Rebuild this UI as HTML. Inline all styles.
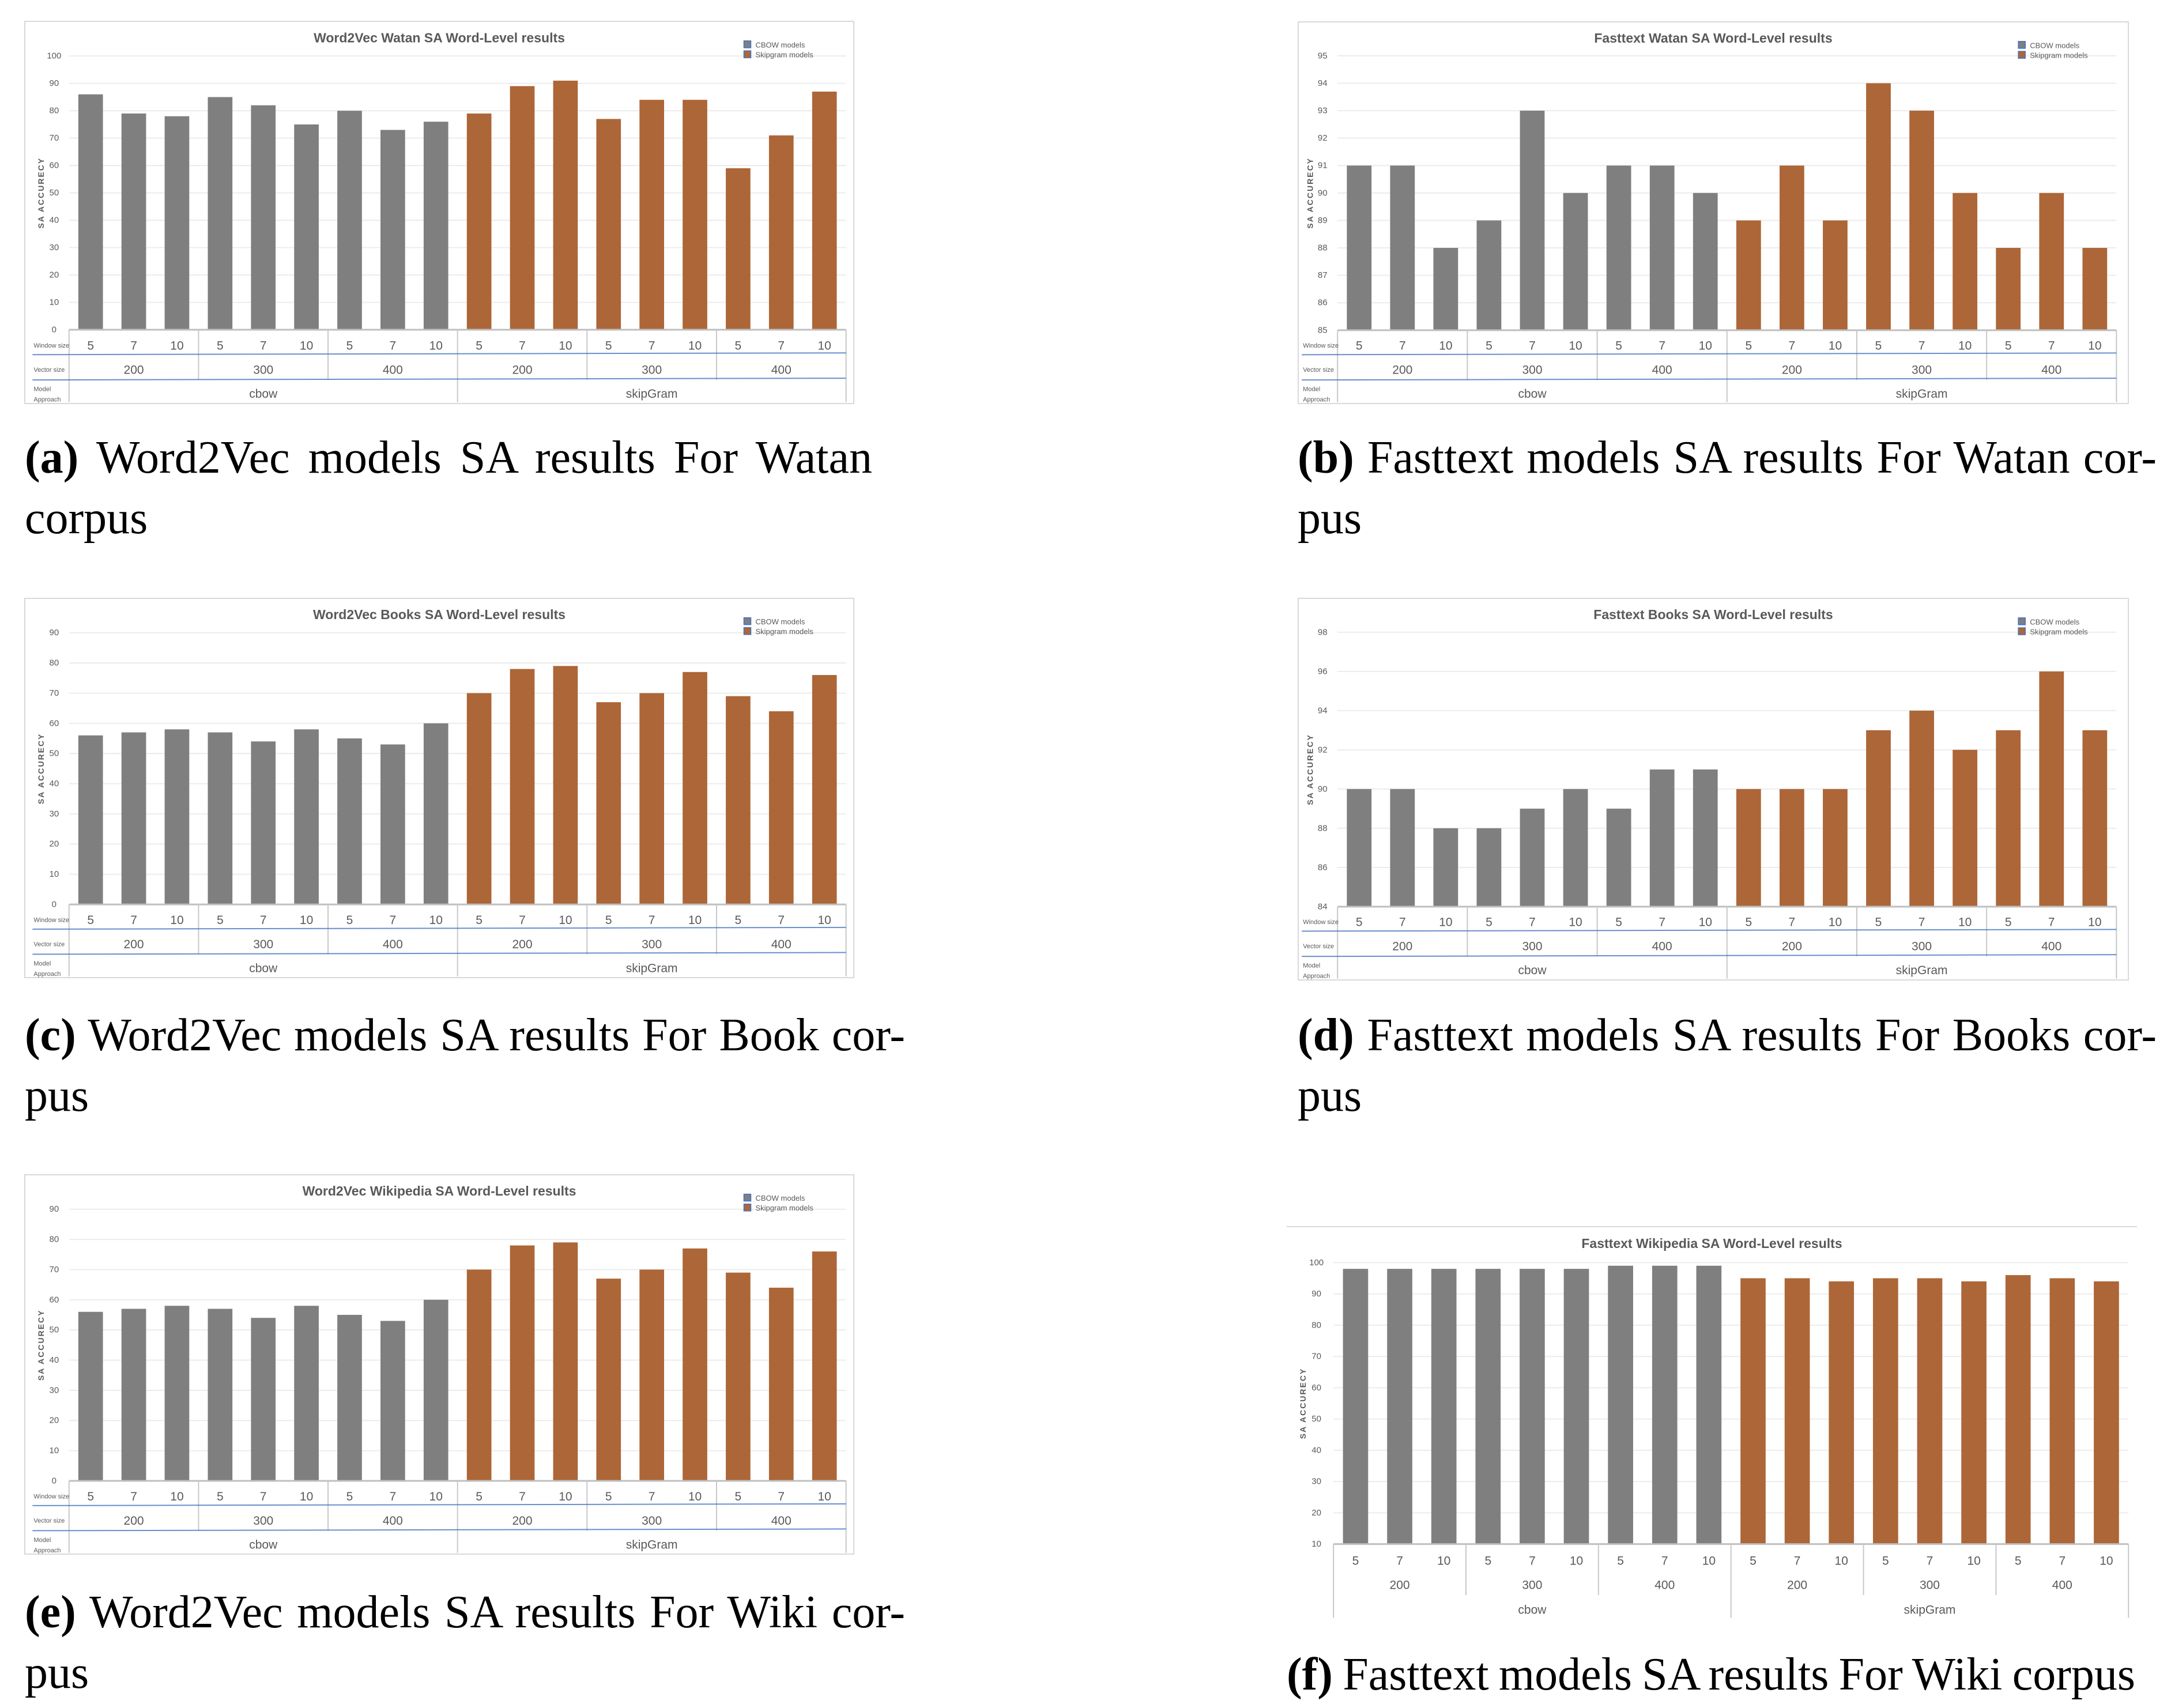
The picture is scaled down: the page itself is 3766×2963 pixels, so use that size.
<!DOCTYPE html>
<html><head><meta charset="utf-8"><style>
html,body{margin:0;padding:0;background:#fff;}
body{width:3766px;height:2963px;position:relative;overflow:hidden;font-family:"Liberation Sans",sans-serif;}
.cap{position:absolute;font-family:"Liberation Serif",serif;font-size:80px;line-height:80px;color:#000;white-space:nowrap;}
svg{position:absolute;}
</style></head><body>
<div id="charts"></div>

<div class="cap just" data-w="1470" style="left:43px;top:754px;"><b>(a)</b> Word2Vec models SA results For Watan</div>
<div class="cap" style="left:43px;top:859px;">corpus</div>
<div class="cap just" data-w="1490" style="left:2251px;top:754px;"><b>(b)</b> Fasttext models SA results For Watan cor-</div>
<div class="cap" style="left:2251px;top:859px;">pus</div>
<div class="cap just" data-w="1527" style="left:43px;top:1756px;"><b>(c)</b> Word2Vec models SA results For Book cor-</div>
<div class="cap" style="left:43px;top:1861px;">pus</div>
<div class="cap just" data-w="1490" style="left:2251px;top:1756px;"><b>(d)</b> Fasttext models SA results For Books cor-</div>
<div class="cap" style="left:2251px;top:1861px;">pus</div>
<div class="cap just" data-w="1527" style="left:43px;top:2757px;"><b>(e)</b> Word2Vec models SA results For Wiki cor-</div>
<div class="cap" style="left:43px;top:2862px;">pus</div>
<div class="cap just" data-w="1472" style="left:2232px;top:2865px;"><b>(f)</b> Fasttext models SA results For Wiki corpus</div>

<script>
// ---- data ----
const windowSizes = ["5","7","10"];
const vectorSizes = ["200","300","400"];
const approaches = ["cbow","skipGram"];
const titleA = "Word2Vec Watan SA Word-Level results";
const cbowA = [86,79,78,85,82,75,80,73,76];
const skipA = [79,89,91,77,84,84,59,71,87];
const ticksA = [0,10,20,30,40,50,60,70,80,90,100];
const titleB = "Fasttext Watan SA Word-Level results";
const cbowB = [91,91,88,89,93,90,91,91,90];
const skipB = [89,91,89,94,93,90,88,90,88];
const ticksB = [85,86,87,88,89,90,91,92,93,94,95];
const titleC = "Word2Vec Books SA Word-Level results";
const cbowC = [56,57,58,57,54,58,55,53,60];
const skipC = [70,78,79,67,70,77,69,64,76];
const ticksC = [0,10,20,30,40,50,60,70,80,90];
const titleD = "Fasttext Books SA Word-Level results";
const cbowD = [90,90,88,88,89,90,89,91,91];
const skipD = [90,90,90,93,94,92,93,96,93];
const ticksD = [84,86,88,90,92,94,96,98];
const titleE = "Word2Vec Wikipedia SA Word-Level results";
const cbowE = [56,57,58,57,54,58,55,53,60];
const skipE = [70,78,79,67,70,77,69,64,76];
const ticksE = [0,10,20,30,40,50,60,70,80,90];
const titleF = "Fasttext Wikipedia SA Word-Level results";
const cbowF = [98,98,98,98,98,98,99,99,99];
const skipF = [95,95,94,95,95,94,96,95,94];
const ticksF = [10,20,30,40,50,60,70,80,90,100];

// justify captions via word-spacing
document.querySelectorAll('.just').forEach(el=>{
  const target=+el.getAttribute('data-w');
  const nat=el.getBoundingClientRect().width;
  const spaces=(el.textContent.match(/ /g)||[]).length;
  if(spaces>0) el.style.wordSpacing=((target-nat)/spaces)+'px';
});

const NS="http://www.w3.org/2000/svg";
const GRAY="#7f7f7f", BROWN="#ad6637";
function mk(tag,attrs,parent){const e=document.createElementNS(NS,tag);for(const k in attrs)e.setAttribute(k,attrs[k]);if(parent)parent.appendChild(e);return e;}
function txt(parent,x,y,s,size,opts){const t=mk('text',Object.assign({x:x,y:y,'font-size':size,fill:'#595959','font-family':'"Liberation Sans",sans-serif','text-anchor':'middle','dominant-baseline':'central'},opts||{}),parent);t.textContent=s;return t;}

function panel(id,box,title,cbow,skip,ticks,L){
  const W=box.w,H=box.h;
  const svg=mk('svg',{width:W,height:H,style:`left:${box.x}px;top:${box.y}px`});
  
  
  document.body.appendChild(svg);
  if(L.border){const r=mk('rect',{x:1,y:1,width:W-2,height:H-2,fill:'#fff',stroke:'#d9d9d9','stroke-width':2},svg);
    
    }
  else {const r=mk('line',{x1:0,y1:1,x2:W,y2:1,stroke:'#d9d9d9','stroke-width':2},svg);
    
    }
  const pl=L.pl*W,pr=L.pr*W,pt=L.pt*H,pb=L.pb*H;
  const ymin=ticks[0],ymax=ticks[ticks.length-1];
  const Y=v=>pb-(v-ymin)/(ymax-ymin)*(pb-pt);
  const vals=cbow.concat(skip);
  const cw=(pr-pl)/vals.length;
  const X=i=>pl+cw*(i+0.5);
  const t=txt(svg,W*0.5,L.ty*H,title,23,{'font-weight':'bold'});
  
  
  ticks.forEach(v=>{
    const g=mk('line',{x1:pl,x2:pr,y1:Y(v),y2:Y(v),stroke:'#ececec','stroke-width':2},svg);
    
    
    const l=txt(svg,L.lx*W,Y(v),String(v),15);
    
    
  });
  const yt=txt(svg,L.ytx*W,(pt+pb)/2,'SA ACCURECY',14,{transform:`rotate(-90 ${L.ytx*W} ${(pt+pb)/2})`,'letter-spacing':'2','font-weight':'bold'});
  
  
  const bw=cw*0.57;
  vals.forEach((v,i)=>{
    const b=mk('rect',{x:X(i)-bw/2,y:Y(v),width:bw,height:pb-Y(v),fill:i<9?GRAY:BROWN},svg);
    
    
  });
  const ax=mk('line',{x1:pl,x2:pr,y1:pb,y2:pb,stroke:'#bfbfbf','stroke-width':3},svg);
  
  
  const r1=L.r1*H,r2=L.r2*H,r3=L.r3*H,l1=L.l1*H,l2=L.l2*H,bot=L.bot*H;
  for(let i=0;i<=18;i+=3){
    const yEnd=(i%9===0)?bot:l2;
    const v=mk('line',{x1:pl+cw*i,x2:pl+cw*i,y1:pb,y2:yEnd,stroke:'#c8c8c8','stroke-width':2},svg);
    
    
  }
  if(L.blue){[l1,l2].forEach(yy=>{const h=mk('line',{x1:L.hx*W,x2:pr,y1:yy,y2:yy-3,stroke:'#4472c4','stroke-width':2,opacity:0.8},svg);
    
    });}
  vals.forEach((v,i)=>{const w=txt(svg,X(i),r1,windowSizes[i%3],21);
    
    });
  for(let g=0;g<6;g++){const s=txt(svg,pl+cw*(g*3+1.5),r2,vectorSizes[g%3],21);
    
    }
  approaches.forEach((a,k)=>{const s=txt(svg,pl+cw*(k*9+4.5),r3,a,21);
    
    });
  if(L.rowHeads){
    [['Window size',r1],['Vector size',r2]].forEach(([s,yy])=>{const e=txt(svg,L.hx*W+2,yy,s,11,{'text-anchor':'start'});
      
      });
    const m1=txt(svg,L.hx*W+2,r3-8,'Model',11,{'text-anchor':'start'});
    
    
    const m2=txt(svg,L.hx*W+2,r3+10,'Approach',11,{'text-anchor':'start'});
    
    
  }
  if(L.legend){
    [['CBOW models',GRAY,L.lg1],['Skipgram models',BROWN,L.lg2]].forEach(([s,c,yy])=>{
      const sq=mk('rect',{x:L.lgx*W,y:yy*H-7,width:12,height:12,fill:c,stroke:'#4472c4','stroke-width':1.5},svg);
      
      
      const e=txt(svg,L.lgx*W+20,yy*H,s,13,{'text-anchor':'start'});
      
      
    });
  }
}
const LW={border:true,pl:0.054,pr:0.99,pt:0.092,pb:0.806,ty:0.044,lx:0.036,ytx:0.02,r1:0.848,l1:0.871,r2:0.911,l2:0.937,r3:0.974,bot:0.995,hx:0.01,blue:true,rowHeads:true,legend:true,lgx:0.867,lg1:0.063,lg2:0.089};
const LF={border:false,pl:0.055,pr:0.99,pt:0.093,pb:0.81,ty:0.044,lx:0.035,ytx:0.019,r1:0.853,l1:0.91,r2:0.915,l2:0.94,r3:0.978,bot:0.998,hx:0.05,blue:false,rowHeads:false,legend:false};
const LB=Object.assign({},LW,{pl:0.048,pr:0.985,pt:0.090,pb:0.807,lx:0.03,ytx:0.015,hx:0.005});
panel('a',{x:42,y:36,w:1440,h:665},titleA,cbowA,skipA,ticksA,LW);
panel('b',{x:2251,y:37,w:1442,h:664},titleB,cbowB,skipB,ticksB,LB);
panel('c',{x:42,y:1037,w:1440,h:660},titleC,cbowC,skipC,ticksC,LW);
panel('d',{x:2251,y:1037,w:1442,h:664},titleD,cbowD,skipD,ticksD,LB);
panel('e',{x:42,y:2037,w:1440,h:660},titleE,cbowE,skipE,ticksE,LW);
panel('f',{x:2232,y:2127,w:1475,h:681},titleF,cbowF,skipF,ticksF,LF);
</script>
</body></html>
